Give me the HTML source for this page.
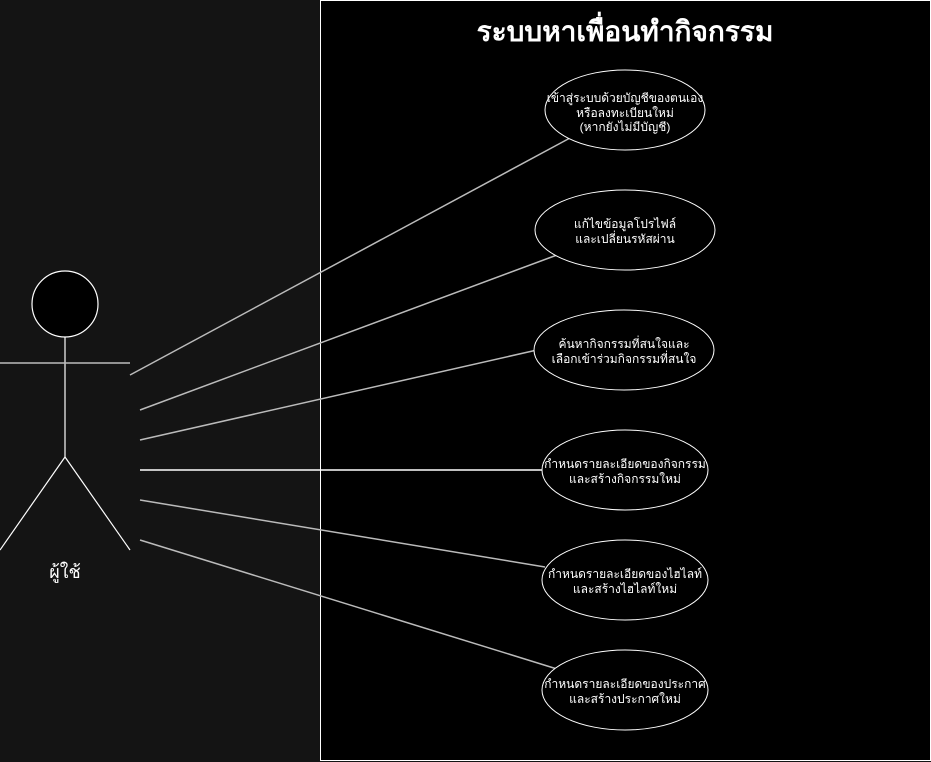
<!DOCTYPE html>
<html><head><meta charset="utf-8"><style>
html,body{margin:0;padding:0;background:#141414;width:931px;height:762px;overflow:hidden}
svg{display:block}
text{font-family:"Liberation Sans","DejaVu Sans",sans-serif;fill:#fff}
</style></head><body>
<svg width="931" height="762" viewBox="0 0 931 762" xmlns="http://www.w3.org/2000/svg">
<rect x="0" y="0" width="931" height="762" fill="#141414"/>
<rect x="320.5" y="0.5" width="610" height="760" fill="#000" stroke="#fff" stroke-width="1"/>
<text x="625" y="41" font-size="28" font-weight="bold" text-anchor="middle">ระบบหาเพื่อนทำกิจกรรม</text>
<g stroke="#bbb" stroke-width="1.5" fill="none">
<line x1="130" y1="375" x2="570" y2="138"/>
<line x1="140" y1="410" x2="557" y2="255"/>
<line x1="140" y1="440" x2="537" y2="350"/>
<line x1="140" y1="470" x2="542" y2="470" stroke="#fff"/>
<line x1="140" y1="500" x2="545" y2="567"/>
<line x1="140" y1="540" x2="557" y2="669"/>
</g>
<g stroke="#fff" stroke-width="1" fill="#000">
<ellipse cx="625" cy="110" rx="80" ry="40"/>
<ellipse cx="625" cy="230" rx="90" ry="40"/>
<ellipse cx="624" cy="350" rx="90" ry="40"/>
<ellipse cx="625" cy="470" rx="83" ry="40"/>
<ellipse cx="625" cy="580" rx="83" ry="40"/>
<ellipse cx="625" cy="690" rx="83" ry="40"/>
</g>
<g font-size="12" text-anchor="middle">
<text x="625" y="102">เข้าสู่ระบบด้วยบัญชีของตนเอง</text>
<text x="625" y="117">หรือลงทะเบียนใหม่</text>
<text x="625" y="131">(หากยังไม่มีบัญชี)</text>
<text x="625" y="228">แก้ไขข้อมูลโปรไฟล์</text>
<text x="625" y="243">และเปลี่ยนรหัสผ่าน</text>
<text x="624" y="348">ค้นหากิจกรรมที่สนใจและ</text>
<text x="624" y="363">เลือกเข้าร่วมกิจกรรมที่สนใจ</text>
<text x="625" y="468">กำหนดรายละเอียดของกิจกรรม</text>
<text x="625" y="483">และสร้างกิจกรรมใหม่</text>
<text x="625" y="578">กำหนดรายละเอียดของไฮไลท์</text>
<text x="625" y="593">และสร้างไฮไลท์ใหม่</text>
<text x="625" y="688">กำหนดรายละเอียดของประกาศ</text>
<text x="625" y="703">และสร้างประกาศใหม่</text>
</g>
<g stroke="#fff" stroke-width="1.2" fill="none">
<circle cx="65" cy="304" r="33" fill="#000"/>
<line x1="65" y1="337" x2="65" y2="457"/>
<line x1="0" y1="363" x2="130" y2="363" stroke="#bbb" stroke-width="1.5"/>
<line x1="65" y1="457" x2="0" y2="550"/>
<line x1="65" y1="457" x2="130" y2="550"/>
</g>
<text x="65" y="578" font-size="18" text-anchor="middle">ผู้ใช้</text>
</svg>
</body></html>
